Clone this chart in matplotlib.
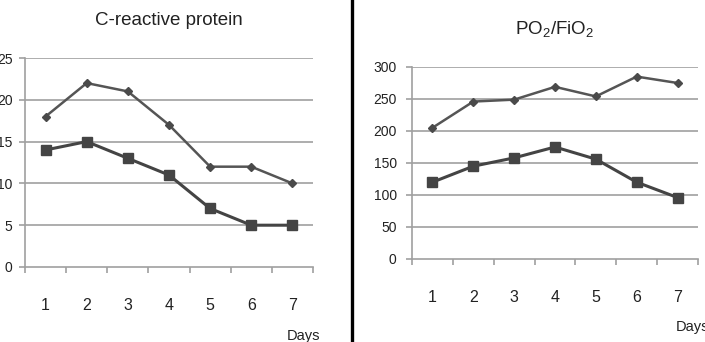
import numpy as np
import matplotlib
matplotlib.use('Agg')
import matplotlib.pyplot as plt
from matplotlib.lines import Line2D

days = [1, 2, 3, 4, 5, 6, 7]
crp_upper = [18, 22, 21, 17, 12, 12, 10]
crp_lower = [14, 15, 13, 11, 7, 5, 5]
pf_upper = [205, 246, 249, 269, 254, 285, 275]
pf_lower = [120, 145, 158, 175, 156, 120, 96]

plt.rcParams['font.family'] = ['Liberation Sans', 'DejaVu Sans']
plt.rcParams['mathtext.fontset'] = 'custom'
plt.rcParams['mathtext.rm'] = 'Liberation Sans'
plt.rcParams['mathtext.it'] = 'Liberation Sans'

fig = plt.figure(figsize=(7.05, 3.42), dpi=100)
ax1 = fig.add_axes([25/705, 1-267/342, 288/705, 209/342])
ax2 = fig.add_axes([412/705, 1-259/342, 286/705, 192/342])

line_c = '#555555'
grid_c = '#a0a0a0'


def style(ax, upper, lower, ymax, step, title, dayx, dayy, ypad):
    ax.plot(days, upper, color=line_c, lw=1.8, marker='D', ms=4,
            mfc='#4a4a4a', mec='#4a4a4a')
    ax.plot(days, lower, color='#444444', lw=2.2, marker='s', ms=6.5,
            mfc='#444444', mec='#444444')
    ax.set_xlim(0.5, 7.5)
    ax.set_ylim(0, ymax)
    ax.set_yticks(np.arange(0, ymax + 1, step))
    for y in np.arange(step, ymax + 1, step):
        ax.axhline(y, color=grid_c, lw=1.2, zorder=0)
    ax.set_xticks(days)
    ax.set_xticks(np.arange(0.5, 8, 1), minor=True)
    ax.tick_params(axis='x', which='major', length=0, pad=22, labelsize=11.5,
                   labelcolor='#222222')
    ax.tick_params(axis='x', which='minor', length=4, color=grid_c, width=1.2)
    ax.tick_params(axis='y', length=4, color=grid_c, width=1.2, pad=ypad,
                   labelsize=10, labelcolor='#222222')
    for s in ['top', 'right']:
        ax.spines[s].set_visible(False)
    for s in ['left', 'bottom']:
        ax.spines[s].set_color(grid_c)
        ax.spines[s].set_linewidth(1.2)
    ax.set_title(title, fontsize=13.5, pad=24, color='#222222')
    fig.text(dayx, dayy, 'Days', fontsize=10.5, color='#222222', ha='left', va='center')


style(ax1, crp_upper, crp_lower, 25, 5, 'C-reactive protein', 287/705, 1-336/342, 5)
style(ax2, pf_upper, pf_lower, 300, 50, r'PO$_2$/FiO$_2$', 676/705, 1-327/342, 7)

fig.add_artist(Line2D([351.5/705, 351.5/705], [0, 1], color='black', lw=2.4,
                      transform=fig.transFigure))

fig.savefig('out.png', dpi=100, facecolor='white')
